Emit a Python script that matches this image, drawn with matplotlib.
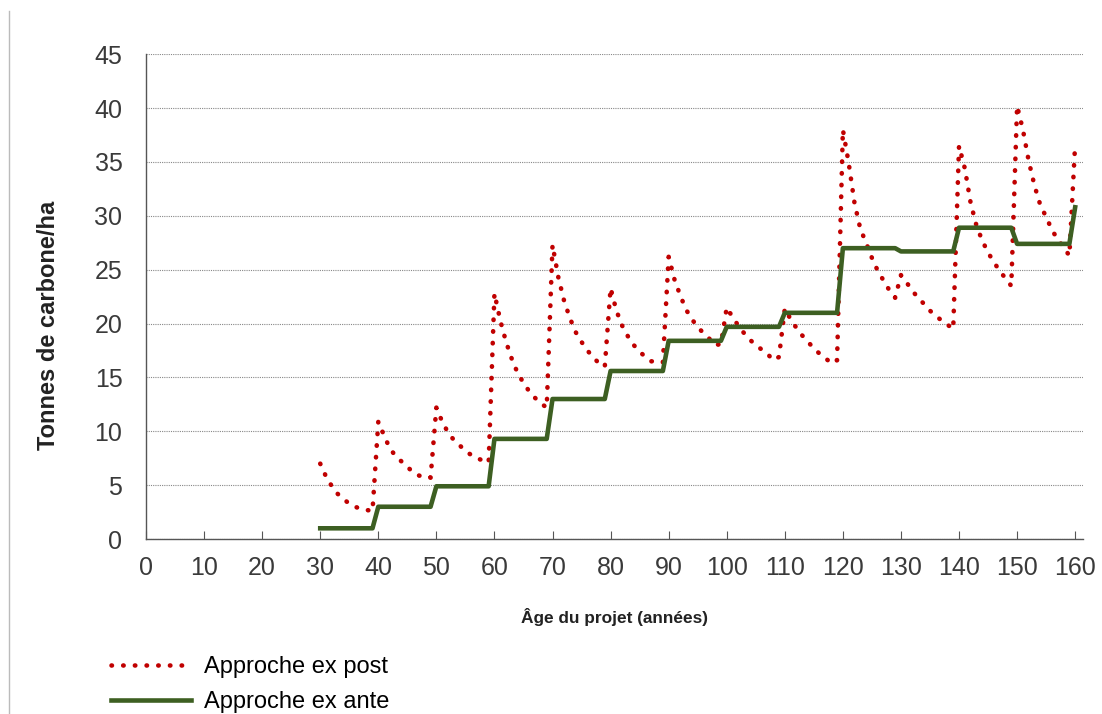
import numpy as np
import matplotlib
matplotlib.use("Agg")
from matplotlib import pyplot as plt
from matplotlib.lines import Line2D

plt.rcParams['font.family'] = ['Liberation Sans', 'DejaVu Sans']

years = list(range(30, 161))

ex_post = [
    7.0, 5.8, 4.9, 4.2, 3.7, 3.3, 3.0, 2.8, 2.7, 2.6,            # 30-39
    10.9, 9.6, 8.4, 7.7, 7.2, 6.7, 6.2, 5.9, 5.7, 5.7,           # 40-49
    12.2, 10.9, 9.9, 9.2, 8.7, 8.2, 7.8, 7.5, 7.3, 7.1,          # 50-59
    22.8, 20.3, 18.3, 16.7, 15.4, 14.5, 13.7, 13.1, 12.6, 12.2,  # 60-69
    27.3, 24.3, 22.1, 20.5, 19.2, 18.3, 17.5, 16.9, 16.3, 16.0,  # 70-79
    23.3, 21.2, 19.8, 18.8, 18.0, 17.4, 16.9, 16.5, 16.5, 16.4,  # 80-89
    26.2, 24.1, 22.6, 21.3, 20.4, 19.7, 19.1, 18.6, 18.0, 18.1,  # 90-99
    21.5, 20.6, 19.8, 19.1, 18.5, 18.0, 17.6, 17.2, 16.6, 16.9,  # 100-109
    21.4, 20.4, 19.6, 18.9, 18.3, 17.7, 17.2, 16.8, 16.3, 16.6,  # 110-119
    38.0, 34.9, 31.2, 28.8, 27.5, 26.1, 24.9, 24.0, 23.1, 22.4,  # 120-129
    24.5, 23.8, 23.0, 22.4, 21.8, 21.2, 20.7, 20.3, 19.9, 19.5,  # 130-139
    36.5, 34.4, 31.2, 29.1, 27.7, 26.6, 25.7, 24.9, 24.2, 23.5,  # 140-149
    40.2, 38.0, 35.1, 32.8, 31.0, 29.9, 28.7, 27.8, 27.1, 26.3,  # 150-159
    36.7,                                                        # 160
]

ex_ante_levels = [1.0, 3.0, 4.9, 9.3, 13.0, 15.6, 18.4, 19.7, 21.0,
                  27.0, 26.7, 28.9, 27.4, 30.8]
ex_ante = [ex_ante_levels[(y - 30) // 10] for y in years]

red = '#c00000'
green = '#3d5f22'
dots = (0, (0.1, 2.45))

fig = plt.figure(figsize=(11.02, 7.14), dpi=100)
ax = fig.add_axes([0.1325, 0.245, 0.850, 0.679])

ax.plot(years, ex_post, color=red, linestyle=dots, linewidth=3.3,
        dash_capstyle='round', label='Approche ex post', zorder=3)
ax.plot(years, ex_ante, color=green, linewidth=3.3, label='Approche ex ante', zorder=4)

ax.set_xlim(0, 161.3)
ax.set_ylim(0, 45)
ax.set_xticks(range(0, 161, 10))
ax.set_yticks(range(0, 46, 5))
ax.yaxis.grid(True, color='#888888', linestyle=(0, (1, 1)), linewidth=0.8)
ax.set_axisbelow(True)

for s in ['top', 'right']:
    ax.spines[s].set_visible(False)
for s in ['left', 'bottom']:
    ax.spines[s].set_color('#555555')
    ax.spines[s].set_linewidth(1.0)

ax.tick_params(axis='x', direction='in', length=6, color='#555555',
               labelsize=18, labelcolor='#3a3a3a', pad=12)
ax.tick_params(axis='y', length=0, labelsize=18, labelcolor='#3a3a3a', pad=17)

ax.set_xlabel('Âge du projet (années)', fontsize=12.4, fontweight='bold',
              color='#222222', labelpad=20)
ax.set_ylabel('Tonnes de carbone/ha', fontsize=17, fontweight='bold',
              color='#222222')
ax.yaxis.set_label_coords(-0.092, 0.44)

handles = [
    Line2D([], [], color=red, linestyle=dots, linewidth=3.3, dash_capstyle='round'),
    Line2D([], [], color=green, linewidth=3.3),
]
fig.legend(handles, ['Approche ex post', 'Approche ex ante'],
           loc='lower left', bbox_to_anchor=(0.0816, -0.029), frameon=False,
           fontsize=17, handlelength=3.4, handletextpad=0.55, labelspacing=0.57)

fig.add_artist(Line2D([0.008, 0.008], [0.0, 0.985], color='#bbbbbb', linewidth=1.0))

fig.savefig('out.png', dpi=100)
